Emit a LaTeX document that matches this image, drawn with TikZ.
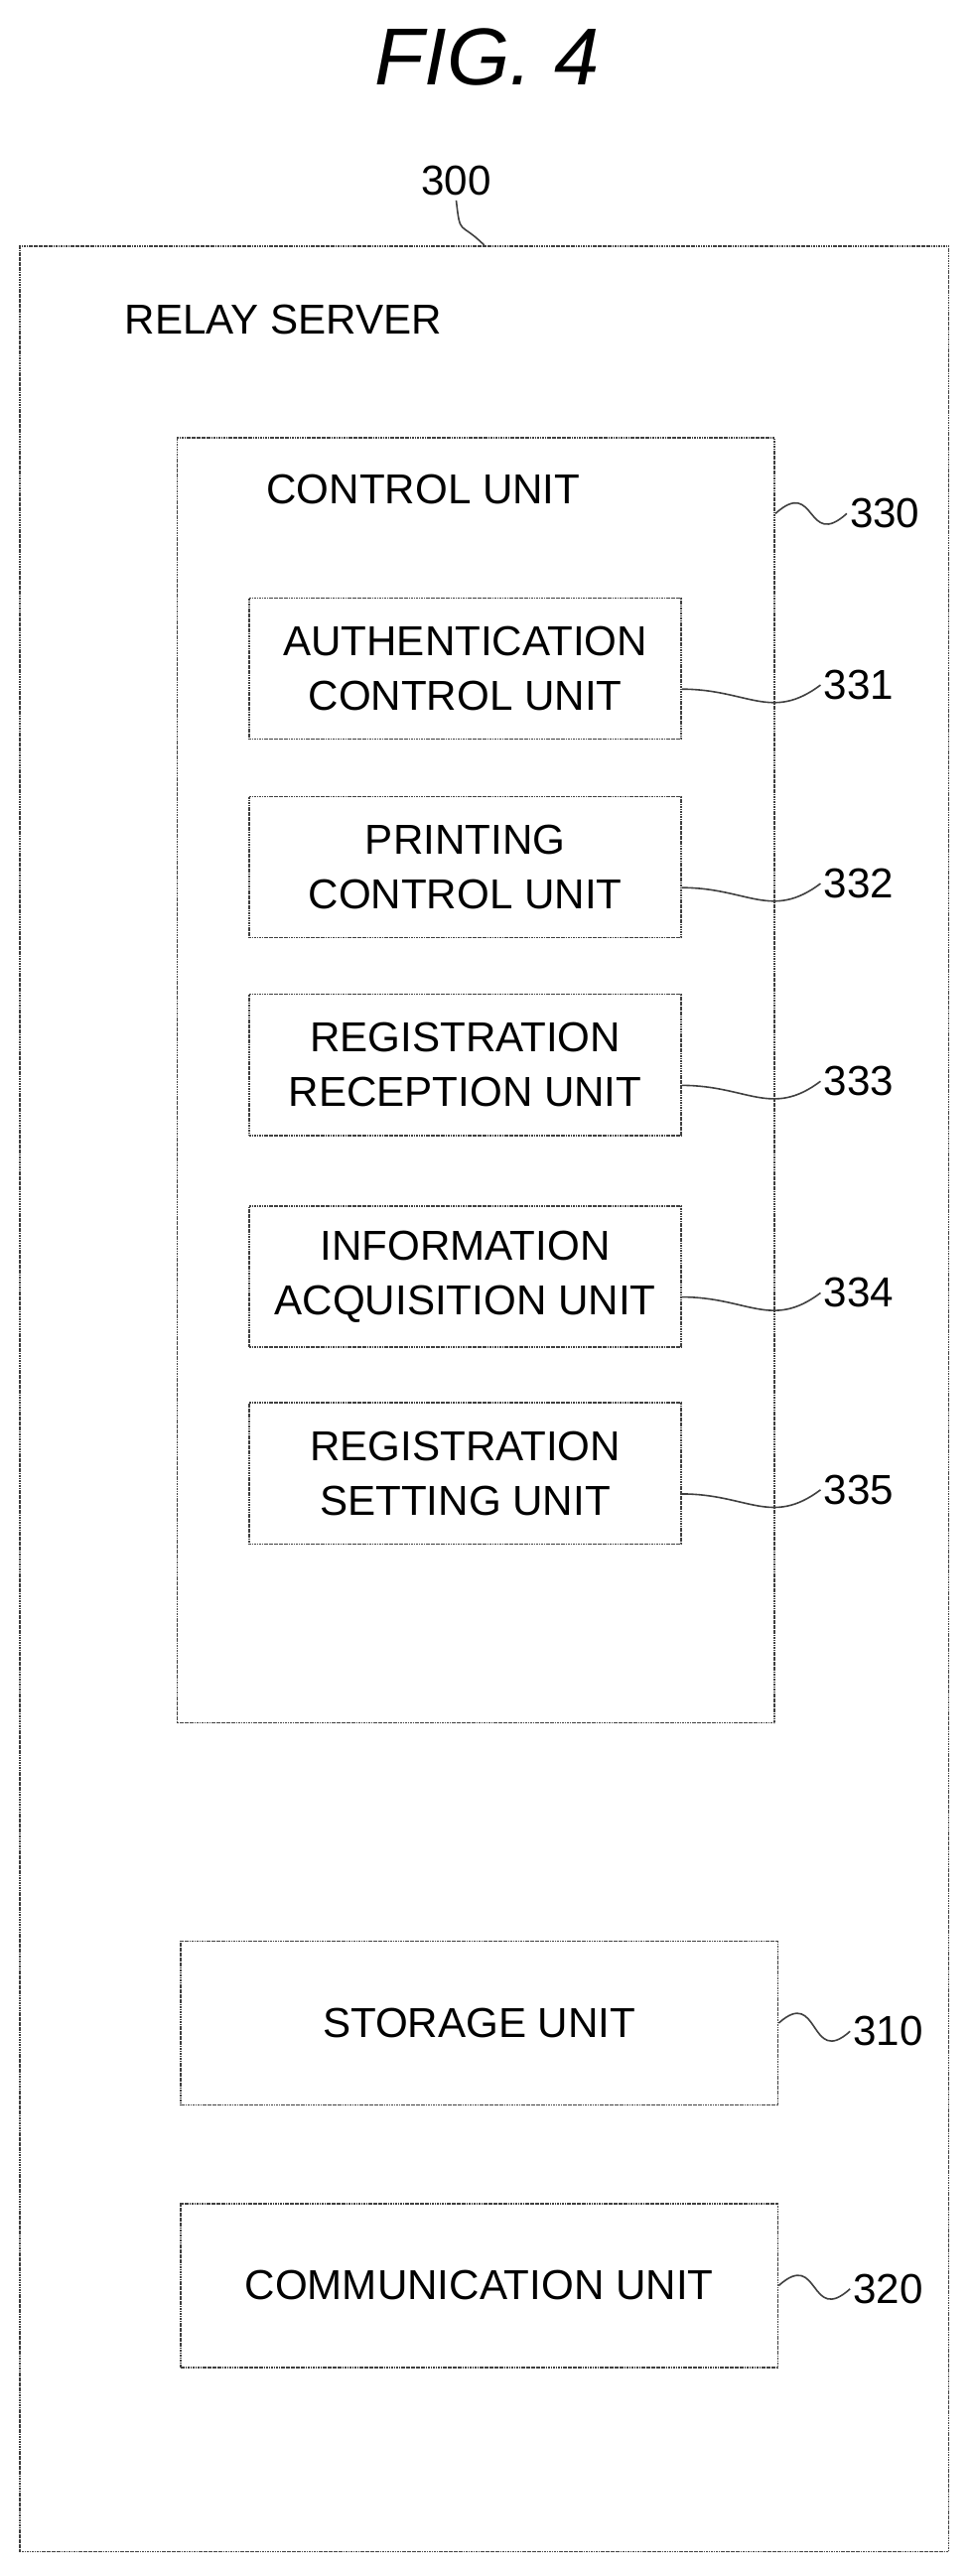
\documentclass[tikz,border=0pt]{standalone}
\usepackage{fontspec}
\setmainfont{Liberation Sans}
\usetikzlibrary{calc,positioning}
\tikzset{
  frame/.style={draw=black!75, line width=1.1pt, dash pattern=on 1.2pt off 0.5pt, inner sep=0pt},
  unit/.style={frame, minimum width=10.52cm, minimum height=3.44cm, align=center, font=\fontsize{29}{38}\selectfont},
  tag/.style={anchor=west, inner sep=2pt, font=\fontsize{29}{34}\selectfont},
  lead/.style={draw=black!75, line width=1.1pt}
}
\begin{document}
\begin{tikzpicture}[x=0.04cm,y=-0.04cm]
\useasboundingbox (0,0) rectangle (593,1570);
\node[font=\itshape\fontsize{56}{60}\selectfont] (title) at (297,35) {FIG. 4};

% relay server
\node[frame, minimum width=22.64cm, minimum height=56.2cm] (relay) at (295,852.5) {};
\node[anchor=west, font=\fontsize{29}{34}\selectfont] (relaytext) at (73,195) {RELAY SERVER};
\node[font=\fontsize{29}{34}\selectfont] (l300) at (278,110) {300};
\draw[lead] (l300.south) .. controls +(0.1cm,-0.9cm) and +(-0.6cm,0.6cm) .. (relay.north);

% control unit
\node[frame, minimum width=14.56cm, minimum height=31.32cm] (ctrl) at (290,658.5) {};
\node[font=\fontsize{29}{34}\selectfont] (ctrltext) at (258,298) {CONTROL UNIT};
\node[tag] (l330) at (516,313) {330};
\draw[lead] (ctrl.east |- l330) .. controls +(1cm,0.9cm) and +(-1cm,-0.9cm) .. (l330.west);

\foreach \n/\y/\txt in {331/407.5/{AUTHENTICATION\\CONTROL UNIT},
                        332/528.5/{PRINTING\\CONTROL UNIT},
                        333/649/{REGISTRATION\\RECEPTION UNIT},
                        334/778/{INFORMATION\\ACQUISITION UNIT},
                        335/898/{REGISTRATION\\SETTING UNIT}}{
  \node[unit] (u\n) at (283.5,\y) {\txt};
  \node[tag] (l\n) at (500,\y+10) {\n};
  \draw[lead] ($(u\n.east)+(0,-0.5cm)$) .. controls +(1.6cm,0) and +(-1.2cm,-0.9cm) .. (l\n.west);
}

% storage and communication
\node[unit, minimum width=14.56cm, minimum height=4cm] (store) at (292,1233) {STORAGE UNIT};
\node[tag] (l310) at (518,1238) {310};
\draw[lead] (store.east) .. controls +(1cm,0.9cm) and +(-1cm,-0.9cm) .. (l310.west);
\node[unit, minimum width=14.56cm, minimum height=4cm] (comm) at (292,1393) {COMMUNICATION UNIT};
\node[tag] (l320) at (518,1395) {320};
\draw[lead] (comm.east) .. controls +(1cm,0.9cm) and +(-1cm,-0.9cm) .. (l320.west);
\end{tikzpicture}
\end{document}
